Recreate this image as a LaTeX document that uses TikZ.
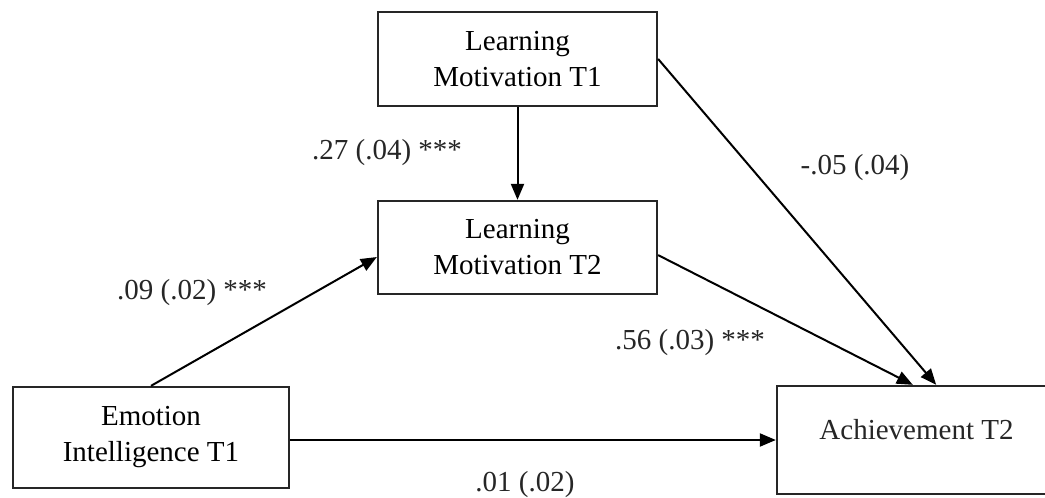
\documentclass[tikz,border=0pt]{standalone}
\usepackage{fontspec}
\setmainfont{Liberation Serif}
\usetikzlibrary{arrows.meta,calc}
\begin{document}
\begin{tikzpicture}[x=1pt,y=-1pt,
  varbox/.style={draw=black!85,line width=2.3pt,rectangle,inner sep=0pt,align=center,
    font=\fontsize{29}{36}\selectfont},
  path/.style={line width=2pt,-{Triangle[length=16pt,width=13pt]}},
  coef/.style={font=\fontsize{29}{36}\selectfont,inner sep=0pt,text=black!85}]
\useasboundingbox (0,0) rectangle (1045,498);
\clip (0,0) rectangle (1045,498);
\fill[white] (0,0) rectangle (1045,498);
\node[varbox,minimum width=279pt,minimum height=94pt] (lm1) at (517.5,59) {Learning\\Motivation T1};
\node[varbox,minimum width=279pt,minimum height=93pt] (lm2) at (517.5,247.5) {Learning\\Motivation T2};
\node[varbox,minimum width=276pt,minimum height=101pt] (ei) at (151,437.5) {Emotion\\Intelligence T1};
\node[varbox,minimum width=279pt,minimum height=108pt] (ach) at (916.5,440) {};
\node[coef] (achtext) at (916.5,430) {Achievement T2};
\draw[path] (lm1.south) -- (lm2.north);
\draw[path] (ei.north) -- ($(lm2.north west)!0.6!(lm2.south west)$);
\draw[path] ($(lm2.north east)!0.58!(lm2.south east)$) -- ($(ach.north west)!0.487!(ach.north east)$);
\draw[path] (lm1.east) -- ($(ach.north west)!0.57!(ach.north east)$);
\draw[path] (ei.east |- ach.west) -- (ach.west);
\node[coef] (c1) at (387,153) {.27 (.04) ***};
\node[coef] (c2) at (855,168) {-.05 (.04)};
\node[coef] (c3) at (192,293) {.09 (.02) ***};
\node[coef] (c4) at (690,343) {.56 (.03) ***};
\node[coef] (c5) at (525,485) {.01 (.02)};
\end{tikzpicture}
\end{document}
